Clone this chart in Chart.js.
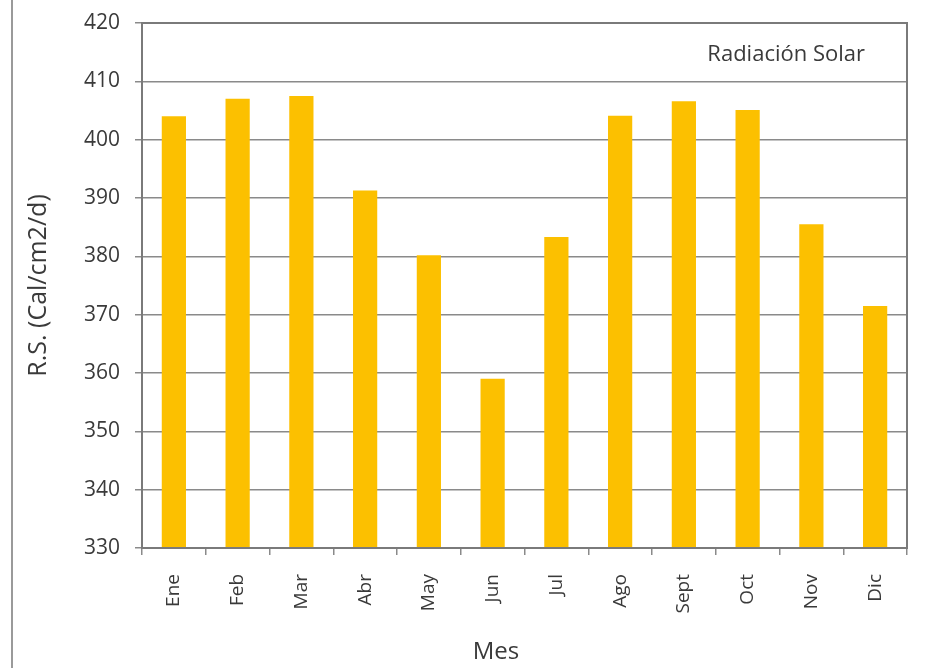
<!DOCTYPE html>
<html>
<head>
<meta charset="utf-8">
<title>Radiación Solar</title>
<script src="https://cdn.jsdelivr.net/npm/chart.js@4"></script>
<style>
    html, body { margin: 0; padding: 0; background: #fff; }
    #wrap { position: relative; width: 941px; height: 668px; }
    #wrap::before {
        content: ""; position: absolute; left: 11px; top: 0; bottom: 0;
        border-left: 2px solid #9a9a9a;
    }
</style>
</head>
<body>
<div id="wrap"><canvas id="solar-chart" width="941" height="668"></canvas></div>
<script>
const months = ['Ene', 'Feb', 'Mar', 'Abr', 'May', 'Jun', 'Jul', 'Ago', 'Sept', 'Oct', 'Nov', 'Dic'];
const radiation = [404, 407, 407.5, 391.3, 380.2, 359, 383.3, 404.1, 406.6, 405.1, 385.5, 371.5];
const yTicks = [330, 340, 350, 360, 370, 380, 390, 400, 410, 420];
const seriesName = 'Radiación Solar';
const xTitle = 'Mes';

// frame round the plot, the series label top right and the x title (sits left of centre in the original)
const plotFrame = {
    id: 'plotFrame',
    afterDraw(chart) {
        const { ctx, chartArea } = chart;
        ctx.save();
        ctx.strokeStyle = '#7a7a7a';
        ctx.lineWidth = 2;
        ctx.strokeRect(chartArea.left, chartArea.top, chartArea.right - chartArea.left, chartArea.bottom - chartArea.top);
        ctx.fillStyle = '#3a3a3a';
        ctx.font = '22px "Open Sans", sans-serif';
        ctx.textAlign = 'right';
        ctx.textBaseline = 'middle';
        ctx.fillText(seriesName, chartArea.right - 42, chartArea.top + 32);
        ctx.font = '24px "Open Sans", sans-serif';
        ctx.textAlign = 'center';
        ctx.fillText(xTitle, chartArea.left + 354, chartArea.bottom + 104);
        ctx.restore();
    }
};

const ctx = document.getElementById('solar-chart').getContext('2d');
new Chart(ctx, {
    type: 'bar',
    data: {
        labels: months,
        datasets: [{
            label: seriesName,
            data: radiation,
            backgroundColor: '#FCC000',
            barPercentage: 0.76,
            categoryPercentage: 0.5
        }]
    },
    options: {
        responsive: false,
        animation: false,
        layout: { padding: { left: 24, right: 34, top: 23, bottom: 4 } },
        plugins: {
            legend: { display: false },
            tooltip: { enabled: false }
        },
        scales: {
            x: {
                grid: { drawOnChartArea: false, tickLength: 7, color: '#8a8a8a', lineWidth: 1.5 },
                border: { color: '#7a7a7a', width: 2 },
                ticks: {
                    minRotation: 90, maxRotation: 90, padding: 19,
                    color: '#3a3a3a', font: { family: 'Open Sans', size: 19 }
                },
                afterFit(scale) { scale.height = 116; }
            },
            y: {
                min: 330, max: 420,
                afterBuildTicks(scale) { scale.ticks = yTicks.map(v => ({ value: v })); },
                grid: { color: '#8a8a8a', lineWidth: 1.5, tickLength: 7 },
                border: { color: '#7a7a7a', width: 2 },
                ticks: { padding: 15, color: '#3a3a3a', font: { family: 'Open Sans', size: 21 } },
                title: {
                    display: true, text: 'R.S. (Cal/cm2/d)', color: '#3a3a3a',
                    font: { family: 'Open Sans', size: 25 }, padding: { top: 0, bottom: 2 }
                },
                afterFit(scale) {
                    scale.width = 118;
                    scale.paddingTop = 0;
                    scale.paddingBottom = 0;
                }
            }
        }
    },
    plugins: [plotFrame]
});
</script>
</body>
</html>
